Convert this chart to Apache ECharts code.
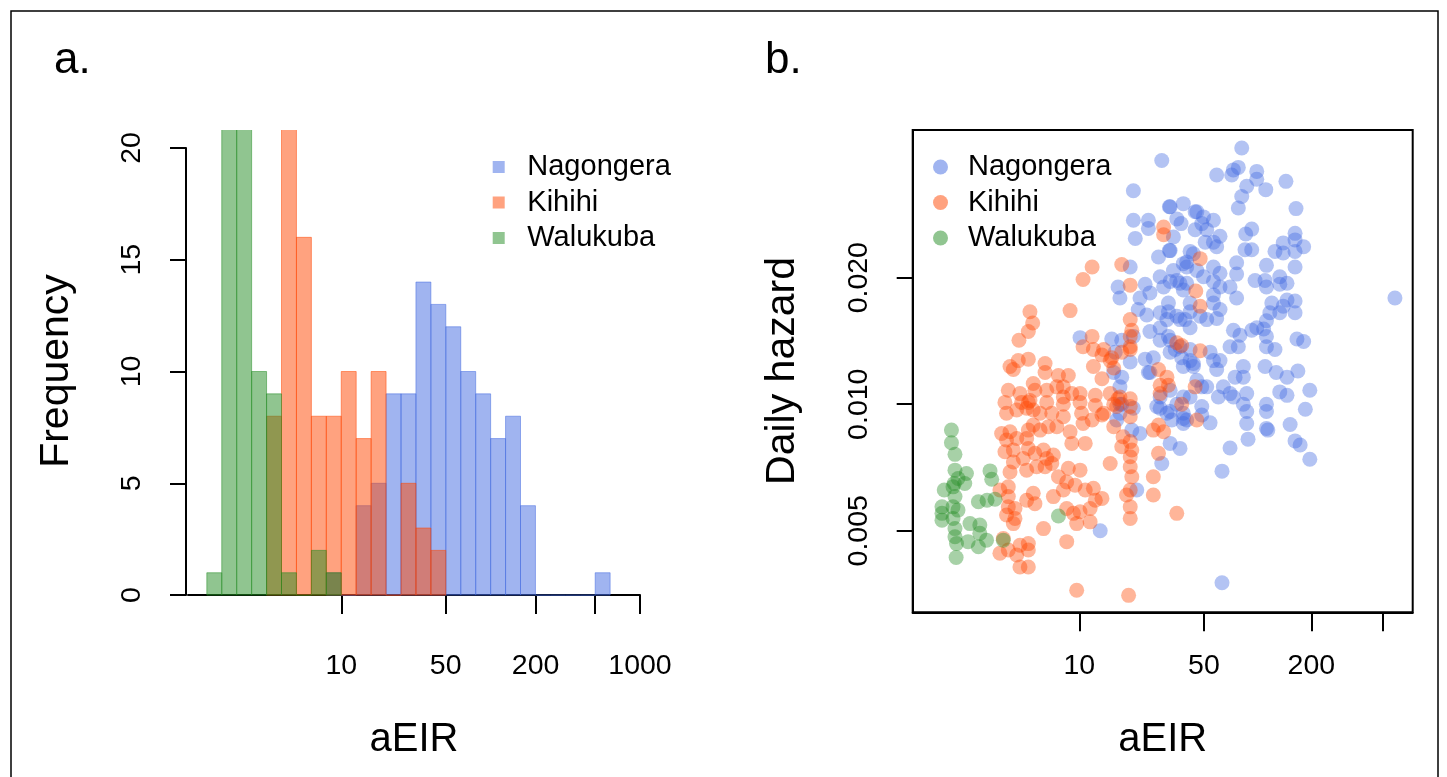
<!DOCTYPE html>
<html><head><meta charset="utf-8">
<script src="https://cdn.jsdelivr.net/npm/echarts@6/dist/echarts.min.js"></script>
<style>html,body{margin:0;padding:0;background:#fff}#c{width:1447px;height:777px}</style>
</head><body><div id="c"></div>
<script>
// ---------- data ----------
const siteNames = ['Nagongera', 'Kihihi', 'Walukuba'];
const siteColors = ['rgba(65,105,225,0.5)', 'rgba(255,69,0,0.5)', 'rgba(34,139,34,0.5)'];

// histogram bins (lower edge, log10 aEIR), width 0.1
const histBinLowerLog10 = [0.1,0.2,0.3,0.4,0.5,0.6,0.7,0.8,0.9,1.0,1.1,1.2,1.3,1.4,1.5,1.6,1.7,1.8,1.9,2.0,2.1,2.2,2.3,2.4,2.5,2.6,2.7];
const histBinWidthLog10 = 0.1;
// counts (null = outside the site's range); 22 = clipped above the plot top
const histNagongera = [null,null,null,null,null,null,null,null,1,0,4,5,9,9,14,13,12,10,9,7,8,4,0,0,0,0,1];
const histKihihi    = [null,null,null,null,8,22,16,8,8,10,7,10,0,5,3,2,null,null,null,null,null,null,null,null,null,null,null];
const histWalukuba  = [1,22,22,10,9,1,0,2,1,null,null,null,null,null,null,null,null,null,null,null,null,null,null,null,null,null,null];

const freqTicks = [0, 5, 10, 15, 20];
const aEIRTicks = [10, 50, 200, 500, 1000];
const aEIRLabelsA = [10, 50, 200, 1000];
const aEIRLabelsB = [10, 50, 200];
const hazardTicks = [0.005, 0.010, 0.020];

// scatter: [aEIR, daily hazard]
const scatterNagongera = [
[29.0,0.0380],[20.1,0.0322],[19.3,0.0212],[16.5,0.0190],[16.9,0.0179],[10.1,0.0144],[15.2,0.0143],[17.3,0.0142],[20.1,0.0145],[15.9,0.0133],
[23.4,0.0128],[26.0,0.0129],[15.6,0.0119],[24.4,0.0119],[16.9,0.0110],[16.9,0.0100],[16.9,0.00952],[16.2,0.00917],[20.1,0.00978],[21.9,0.00852],
[19.7,0.00868],[36.7,0.00785],[32.3,0.00807],[29.0,0.00723],[21.0,0.00625],[13.1,0.00500],[27.2,0.00988],[28.4,0.0104],[31.0,0.00952],[35.2,0.0100],
[38.3,0.00952],[40.0,0.00917],[31.6,0.0145],[36.7,0.0137],[32.3,0.0133],[38.3,0.0123],[43.6,0.0125],[28.4,0.0152],[31.0,0.0159],[36.7,0.0159],
[41.8,0.0152],[24.9,0.0184],[21.9,0.0179],[29.7,0.0190],[35.2,0.0197],[40.0,0.0194],[27.8,0.0224],[32.3,0.0232],[38.3,0.0216],[41.8,0.0231],
[24.4,0.0274],[20.1,0.0274],[20.6,0.0248],[24.4,0.0262],[32.3,0.0295],[38.3,0.0300],[35.2,0.0276],[44.6,0.0287],[33.7,0.0250],[44.6,0.0260],
[81.4,0.0407],[58.9,0.0351],[71.5,0.0351],[73.1,0.0361],[77.9,0.0366],[98.8,0.0358],[98.8,0.0343],[86.8,0.0330],[111,0.0324],[144,0.0339],
[81.4,0.0312],[77.9,0.0293],[164,0.0292],[32.0,0.0295],[45.6,0.0287],[49.7,0.0279],[56.5,0.0274],[48.6,0.0269],[37.2,0.0269],[51.8,0.0260],
[61.5,0.0251],[56.5,0.0243],[50.8,0.0243],[58.9,0.0237],[85.7,0.0254],[92.6,0.0261],[162,0.0255],[162,0.0246],[181,0.0237],[139,0.0242],
[125,0.0231],[139,0.0229],[162,0.0231],[84.9,0.0233],[92.6,0.0233],[76.2,0.0217],[76.2,0.0204],[588,0.0179],[40.0,0.0218],[32.0,0.0232],
[43.6,0.0228],[40.0,0.0212],[45.6,0.0208],[49.7,0.0201],[56.5,0.0212],[61.5,0.0205],[56.5,0.0196],[61.5,0.0190],[56.5,0.0182],[33.7,0.0208],
[32.3,0.0196],[36.7,0.0194],[38.3,0.0187],[28.4,0.0201],[23.4,0.0193],[21.4,0.0168],[23.9,0.0163],[28.4,0.0165],[31.6,0.0174],[31.6,0.0166],
[35.2,0.0162],[39.2,0.0159],[41.8,0.0174],[41.8,0.0166],[47.6,0.0162],[51.8,0.0159],[56.5,0.0174],[61.5,0.0168],[58.9,0.0160],[70.0,0.0190],
[76.2,0.0179],[73.1,0.0150],[79.6,0.0146],[70.0,0.0137],[77.9,0.0137],[96.7,0.0197],[110,0.0197],[112,0.0190],[133,0.0201],[133,0.0193],
[146,0.0194],[112,0.0214],[162,0.0212],[162,0.0176],[162,0.0165],[139,0.0171],[146,0.0177],[133,0.0165],[120,0.0174],[117,0.0165],
[112,0.0158],[92.6,0.0150],[98.8,0.0152],[108,0.0151],[112,0.0145],[112,0.0137],[125,0.0135],[166,0.0143],[181,0.0141],[24.9,0.0149],
[28.4,0.0142],[32.3,0.0142],[34.5,0.0135],[37.5,0.0129],[41.8,0.0135],[41.8,0.0127],[43.6,0.0123],[54.1,0.0133],[56.5,0.0127],[61.5,0.0127],
[58.9,0.0121],[19.3,0.0126],[17.3,0.0116],[24.9,0.0119],[32.3,0.0108],[38.3,0.0104],[41.8,0.0104],[48.6,0.0110],[51.8,0.0110],[45.6,0.0114],
[64.2,0.0110],[70.0,0.0106],[60.2,0.0104],[83.1,0.0123],[83.1,0.0116],[74.7,0.0116],[86.8,0.0106],[73.1,0.0104],[83.1,0.0100],[86.8,0.00961],
[86.8,0.00900],[110,0.0123],[127,0.0119],[146,0.0116],[133,0.0107],[146,0.0105],[112,0.0100],[112,0.00961],[112,0.00876],[28.4,0.00978],
[32.3,0.00961],[33.0,0.00917],[38.3,0.00925],[38.3,0.00900],[48.6,0.00988],[48.6,0.00943],[17.3,0.0100],[63.1,0.00376],[63.1,0.00693],[88.3,0.00826],
[114,0.00868],[162,0.00818],[196,0.00740],[173,0.00800],[70.0,0.00787],[54.1,0.00903],[152,0.00895],[185,0.00973],[168,0.0120],[196,0.0108]
];
const scatterKihihi = [
[29.7,0.0264],[29.7,0.0253],[11.8,0.0212],[10.5,0.0198],[17.3,0.0215],[19.3,0.0192],[5.29,0.0166],[5.48,0.0156],[5.18,0.0149],[4.59,0.0142],
[8.88,0.0167],[11.8,0.0145],[10.5,0.0137],[12.0,0.0135],[13.4,0.0131],[14.9,0.0127],[12.0,0.0123],[13.4,0.0115],[19.3,0.0159],[19.3,0.0145],
[19.3,0.0135],[17.3,0.0133],[4.55,0.0127],[5.18,0.0128],[4.09,0.0123],[4.27,0.0121],[6.43,0.0125],[6.43,0.0119],[7.64,0.0117],[8.68,0.0117],
[5.52,0.0112],[5.64,0.0108],[5.29,0.0102],[6.57,0.0108],[7.48,0.0110],[8.14,0.0110],[8.14,0.0104],[8.14,0.0100],[4.00,0.0108],[3.83,0.0101],
[4.65,0.0106],[4.75,0.0101],[5.18,0.0101],[6.57,0.0101],[9.08,0.0106],[10.1,0.0106],[10.1,0.0101],[12.3,0.0105],[12.3,0.00993],[13.4,0.00943],
[14.9,0.0106],[15.6,0.0100],[16.5,0.0103],[3.91,0.00952],[4.46,0.00969],[5.07,0.00978],[5.52,0.00969],[6.03,0.00952],[7.01,0.00952],[8.14,0.00934],
[10.3,0.00952],[11.8,0.00917],[10.5,0.00900],[3.67,0.00852],[4.09,0.00860],[5.18,0.00868],[5.52,0.00892],[6.03,0.00868],[6.71,0.00884],[7.48,0.00884],
[8.88,0.00860],[9.08,0.00807],[10.8,0.00807],[3.91,0.00822],[4.46,0.00829],[5.07,0.00829],[5.18,0.00785],[5.64,0.00764],[6.30,0.00778],[7.16,0.00757],
[6.57,0.00743],[3.83,0.00771],[4.27,0.00778],[4.27,0.00729],[4.85,0.00743],[4.09,0.00690],[5.07,0.00697],[5.77,0.00710],[6.43,0.00710],[7.01,0.00723],
[8.68,0.00704],[10.1,0.00697],[7.64,0.00672],[8.50,0.00653],[9.47,0.00642],[10.8,0.00625],[13.7,0.00952],[15.6,0.00884],[17.6,0.00837],[19.3,0.00815],
[19.7,0.00778],[19.3,0.00750],[19.3,0.00710],[19.7,0.00672],[19.3,0.00625],[19.3,0.00570],[19.3,0.00535],[17.3,0.00792],[14.9,0.00723],[18.4,0.00608],
[26.0,0.00868],[29.7,0.00860],[27.8,0.00764],[26.0,0.00672],[26.0,0.00608],[35.2,0.00550],[3.59,0.00625],[4.00,0.00636],[4.00,0.00603],[4.00,0.00570],
[3.91,0.00545],[4.36,0.00565],[4.36,0.00535],[4.27,0.00520],[5.07,0.00591],[5.64,0.00580],[5.52,0.00614],[7.16,0.00603],[8.14,0.00625],[8.50,0.00565],
[9.27,0.00550],[10.1,0.00555],[11.5,0.00565],[12.3,0.00591],[13.4,0.00597],[12.0,0.00631],[9.67,0.00520],[11.5,0.00525],[6.30,0.00506],[8.50,0.00471],
[3.59,0.00442],[4.00,0.00450],[4.46,0.00438],[4.65,0.00462],[5.18,0.00466],[5.18,0.00450],[4.65,0.00410],[5.18,0.00410],[3.75,0.00479],[9.67,0.00361],
[18.9,0.00351],[47.6,0.0222],[45.0,0.0186],[47.6,0.0171],[19.7,0.0150],[19.3,0.0137],[13.7,0.0135],[15.2,0.0129],[15.6,0.0122],[37.5,0.0138],
[35.2,0.0140],[47.6,0.0134],[27.8,0.0121],[31.0,0.0116],[31.6,0.0111],[28.4,0.0111],[28.4,0.0106],[44.6,0.0110],[37.5,0.0100],[19.3,0.0103],
[19.3,0.00988],[19.3,0.00934],[16.9,0.0104],[16.2,0.00988],[27.8,0.00892],[45.6,0.00917]
];
const scatterWalukuba = [
[1.92,0.00868],[1.92,0.00810],[2.01,0.00760],[2.01,0.00697],[2.33,0.00684],[3.16,0.00694],[3.23,0.00663],[2.09,0.00666],[2.28,0.00648],[1.96,0.00636],
[1.75,0.00625],[2.01,0.00603],[1.70,0.00570],[1.70,0.00550],[1.70,0.00530],[1.96,0.00570],[2.09,0.00560],[1.96,0.00535],[2.01,0.00506],[2.01,0.00484],
[2.05,0.00466],[2.04,0.00432],[2.38,0.00471],[2.44,0.00520],[2.77,0.00516],[2.77,0.00493],[2.72,0.00458],[3.02,0.00475],[2.72,0.00586],[3.04,0.00591],
[3.37,0.00594],[7.64,0.00542],[3.75,0.00475],[1.99,0.00648]
];

// ---------- build ----------
const FONT = "'Liberation Sans', Arial, Helvetica, sans-serif";
const lg = Math.log10;
const histCounts = [histNagongera, histKihihi, histWalukuba];
const scatterSets = [scatterNagongera, scatterKihihi, scatterWalukuba];

function histData(counts) {
  const out = [];
  counts.forEach((c, i) => {
    if (c === null) return;
    out.push([histBinLowerLog10[i], histBinLowerLog10[i] + histBinWidthLog10, c]);
  });
  return out;
}
function makeHistRender(color) {
  return function (params, api) {
    const p0 = api.coord([api.value(0), 0]);
    const p1 = api.coord([api.value(1), api.value(2)]);
    return {
      type: 'rect',
      shape: { x: p0[0], y: p1[1], width: p1[0] - p0[0], height: p0[1] - p1[1] },
      style: { fill: color, stroke: color, lineWidth: 1 }
    };
  };
}

const axisLineStyle = { color: '#000', width: 2 };
const labelStyle = { color: '#000', fontSize: 28.5, fontFamily: FONT };
const powFmt = v => String(Math.round(Math.pow(10, v)));

const series = [];
siteNames.forEach((name, k) => {
  series.push({
    name: name, type: 'custom', xAxisIndex: 0, yAxisIndex: 0, clip: true,
    itemStyle: { color: siteColors[k] },
    renderItem: makeHistRender(siteColors[k]),
    encode: { x: [0, 1], y: 2 },
    data: histData(histCounts[k]),
    silent: true
  });
});
siteNames.forEach((name, k) => {
  series.push({
    name: name, type: 'scatter', xAxisIndex: 2, yAxisIndex: 2,
    symbol: 'circle', symbolSize: 15,
    itemStyle: { color: siteColors[k], borderWidth: 0 },
    data: scatterSets[k].map(p => [lg(p[0]), lg(p[1])]),
    silent: true
  });
});

const option = {
  animation: false,
  backgroundColor: '#fff',
  textStyle: { fontFamily: FONT },
  grid: [
    { left: 188, top: 130, width: 452, height: 483 },            // histogram data
    { left: 186, top: 148, width: 452, height: 447 },            // frequency axis 0..20
    { left: 912.7, top: 130, width: 500, height: 482.3, show: true, borderColor: '#000', borderWidth: 2, backgroundColor: 'transparent' }
  ],
  xAxis: [
    { gridIndex: 0, type: 'value', min: -0.026, max: 3.0, splitLine: { show: false },
      axisLine: { show: true, lineStyle: axisLineStyle },
      axisTick: { show: true, length: 19, lineStyle: axisLineStyle, customValues: aEIRTicks.map(lg) },
      axisLabel: Object.assign({ margin: 39, formatter: powFmt, customValues: aEIRLabelsA.map(lg) }, labelStyle) },
    { gridIndex: 1, type: 'value', min: 0, max: 1, show: false },
    { gridIndex: 2, type: 'value', min: 0.0662, max: 2.869, splitLine: { show: false },
      axisLine: { show: true, lineStyle: axisLineStyle },
      axisTick: { show: true, length: 19, lineStyle: axisLineStyle, customValues: aEIRTicks.slice(0, 4).map(lg) },
      axisLabel: Object.assign({ margin: 39, formatter: powFmt, customValues: aEIRLabelsB.map(lg) }, labelStyle) }
  ],
  yAxis: [
    { gridIndex: 0, type: 'value', min: -0.8, max: 20.8, show: false },
    { gridIndex: 1, type: 'value', min: 0, max: 20, splitLine: { show: false },
      axisLine: { show: true, lineStyle: axisLineStyle },
      axisTick: { show: true, length: 16, lineStyle: axisLineStyle, customValues: freqTicks },
      axisLabel: Object.assign({ margin: 39, rotate: 90, customValues: freqTicks }, labelStyle) },
    { gridIndex: 2, type: 'value', min: -2.495, max: -1.3476, splitLine: { show: false },
      axisLine: { show: true, lineStyle: axisLineStyle },
      axisTick: { show: true, length: 16, lineStyle: axisLineStyle, customValues: hazardTicks.map(lg) },
      axisLabel: Object.assign({ margin: 39, rotate: 90, customValues: hazardTicks.map(lg),
        formatter: v => Math.pow(10, v).toFixed(3) }, labelStyle) }
  ],
  legend: [
    { left: 492.7, top: 152.5, orient: 'vertical', padding: 0, icon: 'rect', itemWidth: 12, itemHeight: 12, itemGap: 6.5,
      selectedMode: false, data: siteNames,
      textStyle: { color: '#000', fontSize: 29, lineHeight: 29, fontFamily: FONT, padding: [0, 0, 0, 17.6] } },
    { left: 933, top: 152.5, orient: 'vertical', padding: 0, icon: 'circle', itemWidth: 15, itemHeight: 15, itemGap: 6.5,
      selectedMode: false, data: siteNames,
      textStyle: { color: '#000', fontSize: 29, lineHeight: 29, fontFamily: FONT, padding: [0, 0, 0, 15] } }
  ],
  graphic: [
    { type: 'rect', shape: { x: 11, y: 11, width: 1427, height: 820 }, style: { fill: 'none', stroke: '#000', lineWidth: 1.5 }, silent: true },
    { type: 'text', x: 54, y: 61, style: { text: 'a.', fontSize: 44, fontFamily: FONT, fill: '#000', align: 'left', verticalAlign: 'middle' } },
    { type: 'text', x: 765, y: 61, style: { text: 'b.', fontSize: 44, fontFamily: FONT, fill: '#000', align: 'left', verticalAlign: 'middle' } },
    { type: 'text', x: 57, y: 371, rotation: Math.PI / 2, style: { text: 'Frequency', fontSize: 41, fontFamily: FONT, fill: '#000', align: 'center', verticalAlign: 'middle' } },
    { type: 'text', x: 783, y: 371, rotation: Math.PI / 2, style: { text: 'Daily hazard', fontSize: 41, fontFamily: FONT, fill: '#000', align: 'center', verticalAlign: 'middle' } },
    { type: 'text', x: 414, y: 740, style: { text: 'aEIR', fontSize: 40, fontFamily: FONT, fill: '#000', align: 'center', verticalAlign: 'middle' } },
    { type: 'text', x: 1162.7, y: 740, style: { text: 'aEIR', fontSize: 40, fontFamily: FONT, fill: '#000', align: 'center', verticalAlign: 'middle' } }
  ],
  series: series
};

const chart = echarts.init(document.getElementById('c'), null, { renderer: 'canvas' });
chart.setOption(option);
</script>
</body></html>
